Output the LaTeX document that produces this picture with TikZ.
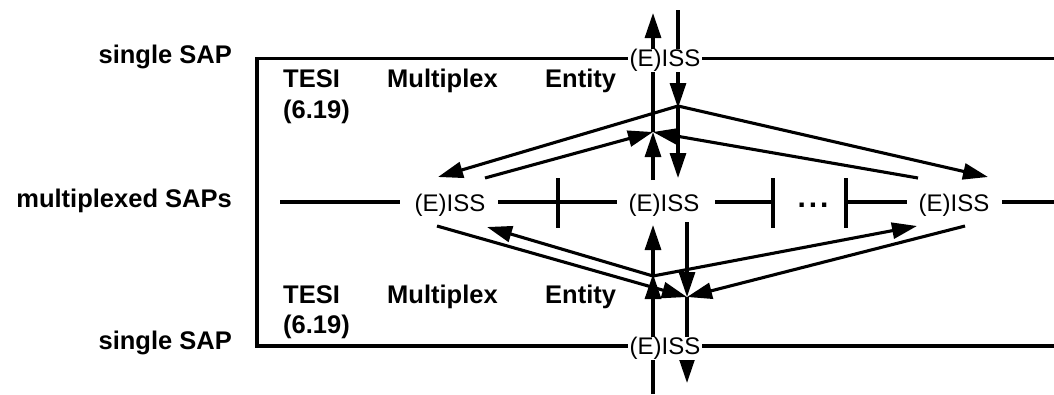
\documentclass[tikz,border=0pt]{standalone}
\usepackage{fontspec}
\setmainfont{Liberation Sans}
\usetikzlibrary{arrows.meta}
\begin{document}
\begin{tikzpicture}[x=1pt,y=-1pt,
  ln/.style={line width=3.1pt},
  arr/.style={line width=3.1pt,-{Triangle[length=25pt,width=16pt]}},
  sapl/.style={font=\fontsize{24}{28}\selectfont, fill=white, inner xsep=2pt, inner ysep=0pt, anchor=base},
  msap/.style={font=\fontsize{24}{28}\selectfont, inner sep=0pt, anchor=base},
  bl/.style={font=\fontsize{25.5}{30}\selectfont\bfseries, inner sep=0pt},
]
\useasboundingbox (0,0) rectangle (1054,394);

% side labels
\node[bl, anchor=base east] (s1) at (232,63) {single SAP};
\node[bl, anchor=base east] (s2) at (232,207) {multiplexed SAPs};
\node[bl, anchor=base east] (s3) at (232,349) {single SAP};

% box frame
\draw[ln] (1054,58.5) -- (257,58.5) -- (257,346) -- (1054,346);

% entity texts
\node[bl, anchor=base west] (t1) at (283,87) {TESI};
\node[bl, anchor=base west] (t2) at (387,87) {Multiplex};
\node[bl, anchor=base west] (t3) at (545,87) {Entity};
\node[bl, anchor=base west] (t4) at (283,118) {(6.19)};
\node[bl, anchor=base west] (b1) at (283,303) {TESI};
\node[bl, anchor=base west] (b2) at (387,303) {Multiplex};
\node[bl, anchor=base west] (b3) at (545,303) {Entity};
\node[bl, anchor=base west] (b4) at (283,333) {(6.19)};

% middle row
\node[msap] (ml) at (450,211) {(E)ISS};
\node[msap] (mc) at (664,211) {(E)ISS};
\node[msap] (mr) at (954,211) {(E)ISS};
\node[bl, anchor=base, font=\fontsize{30}{32}\selectfont\bfseries] (dots) at (813,207.5) {.\hspace{3pt}.\hspace{3pt}.};

\draw[ln] (280,202) -- (400,202);
\draw[ln] (498,202) -- (617,202);
\draw[ln] (558,178) -- (558,228);
\draw[ln] (715,202) -- (773,202);
\draw[ln] (773,178) -- (773,228);
\draw[ln] (846,202) -- (907,202);
\draw[ln] (846,178) -- (846,228);
\draw[ln] (1002,202) -- (1054,202);

% junction points and free ends
\coordinate (A1) at (678,106);
\coordinate (J1) at (653,132);
\coordinate (A2) at (653,276);
\coordinate (J2) at (687,297);
\coordinate (Ttip) at (653,13);
\coordinate (Tsrc) at (678,10);
\coordinate (Bsrc) at (653,394);
\coordinate (Btip) at (687,383);
\coordinate (Lin1) at (438,177);
\coordinate (Lout1) at (485,178);
\coordinate (Cin1) at (678,178);
\coordinate (Cout1) at (653,180);
\coordinate (Rin1) at (988,177);
\coordinate (Rout1) at (918,178);
\coordinate (Lin2) at (487,227);
\coordinate (Lout2) at (437,226);
\coordinate (Cin2) at (653,225);
\coordinate (Cout2) at (687,222);
\coordinate (Rin2) at (917,226);
\coordinate (Rout2) at (965,226);

% upper multiplex entity
\draw[arr] (Tsrc) -- ([yshift=-2pt]A1);
\draw[arr] (A1) -- (Lin1);
\draw[arr] (A1) -- (Cin1);
\draw[arr] (A1) -- (Rin1);
\draw[arr] (Lout1) -- (J1);
\draw[arr] (Cout1) -- (J1);
\draw[arr] (Rout1) -- (J1);
\draw[arr] (J1) -- (Ttip);

% lower multiplex entity
\draw[arr] (Bsrc) -- ([yshift=2pt]A2);
\draw[arr] (A2) -- (Lin2);
\draw[arr] (A2) -- (Cin2);
\draw[arr] (A2) -- (Rin2);
\draw[arr] (Lout2) -- (J2);
\draw[arr] (Cout2) -- (J2);
\draw[arr] (Rout2) -- (J2);
\draw[arr] (J2) -- (Btip);

% single SAP labels on the frame
\node[sapl] (top) at (665,66.7) {(E)ISS};
\node[sapl] (bot) at (665,354.7) {(E)ISS};
\end{tikzpicture}
\end{document}
